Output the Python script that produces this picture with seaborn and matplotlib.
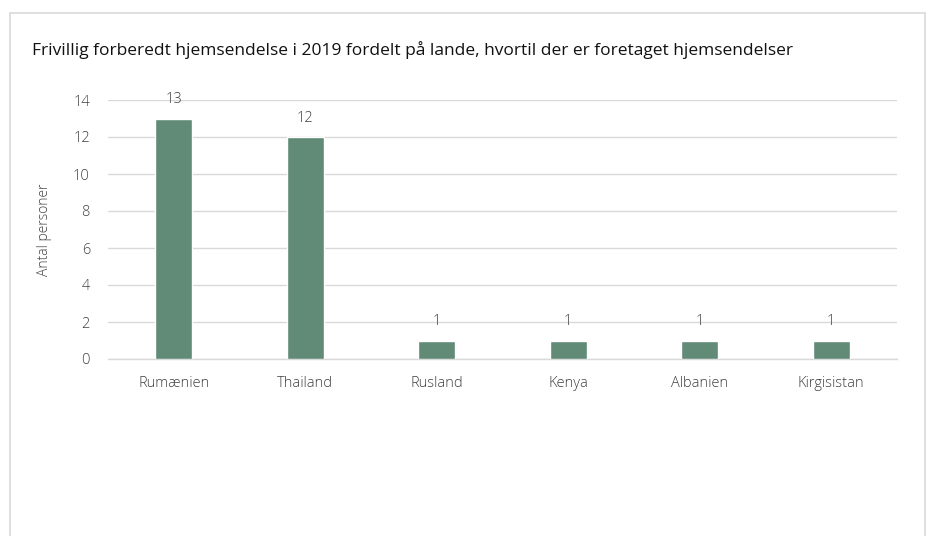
import numpy as np
import pandas as pd
import matplotlib
matplotlib.use('Agg')
import matplotlib.pyplot as plt
from matplotlib.patches import Rectangle
import seaborn as sns

# Chart data
countries = ['Rumænien', 'Thailand', 'Rusland', 'Kenya', 'Albanien', 'Kirgisistan']
persons = [13, 12, 1, 1, 1, 1]
y_ticks = [0, 2, 4, 6, 8, 10, 12, 14]

title = 'Frivillig forberedt hjemsendelse i 2019 fordelt på lande, hvortil der er foretaget hjemsendelser'
y_label = 'Antal personer'

bar_color = '#618B77'
text_color = '#404040'
grid_color = '#D9D9D9'

sns.set_theme(style='white')
plt.rcParams['font.family'] = ['Open Sans', 'DejaVu Sans']

df = pd.DataFrame({'Land': countries, 'Personer': persons})

fig = plt.figure(figsize=(9.28, 5.36), dpi=100)
ax = fig.add_axes([108 / 928, 1 - 359 / 536, (897 - 108) / 928, (359 - 100) / 536])

# Outer frame
fig.patches.append(Rectangle((10 / 928, -0.05), (925 - 10) / 928, 1.05 - 13 / 536,
                             transform=fig.transFigure, fill=False,
                             edgecolor=grid_color, linewidth=1.2))

sns.barplot(data=df, x='Land', y='Personer', color=bar_color, width=0.28,
            saturation=1, ax=ax, zorder=3)

for i, v in enumerate(persons):
    ax.text(i, v + 0.6, str(v), ha='center', va='bottom', fontsize=10.5,
            color=text_color, fontweight='light')

ax.set_ylim(0, 14)
ax.set_xlim(-0.5, len(countries) - 0.5)
ax.set_yticks(y_ticks)
ax.yaxis.grid(True, color=grid_color, linewidth=1)
ax.set_axisbelow(True)
for s in ['top', 'right', 'left']:
    ax.spines[s].set_visible(False)
ax.spines['bottom'].set_color(grid_color)
ax.spines['bottom'].set_linewidth(1)

ax.tick_params(axis='y', length=0, labelsize=10.5, labelcolor=text_color, pad=13)
ax.tick_params(axis='x', which='major', length=0, labelsize=10.5, labelcolor=text_color, pad=12)
ax.set_xticks(np.arange(-0.5, len(countries)), minor=True)
ax.tick_params(axis='x', which='minor', length=5, color=grid_color, width=1, direction='out')
for lab in ax.get_xticklabels() + ax.get_yticklabels():
    lab.set_fontweight('light')

ax.set_xlabel('')
ax.set_ylabel(y_label, fontsize=10, color=text_color, labelpad=15, fontweight='light')

fig.text(32 / 928, 1 - 50 / 536, title, fontsize=12.5, color='#111111', va='center', ha='left')

fig.savefig('out.png', dpi=100, facecolor='white')
